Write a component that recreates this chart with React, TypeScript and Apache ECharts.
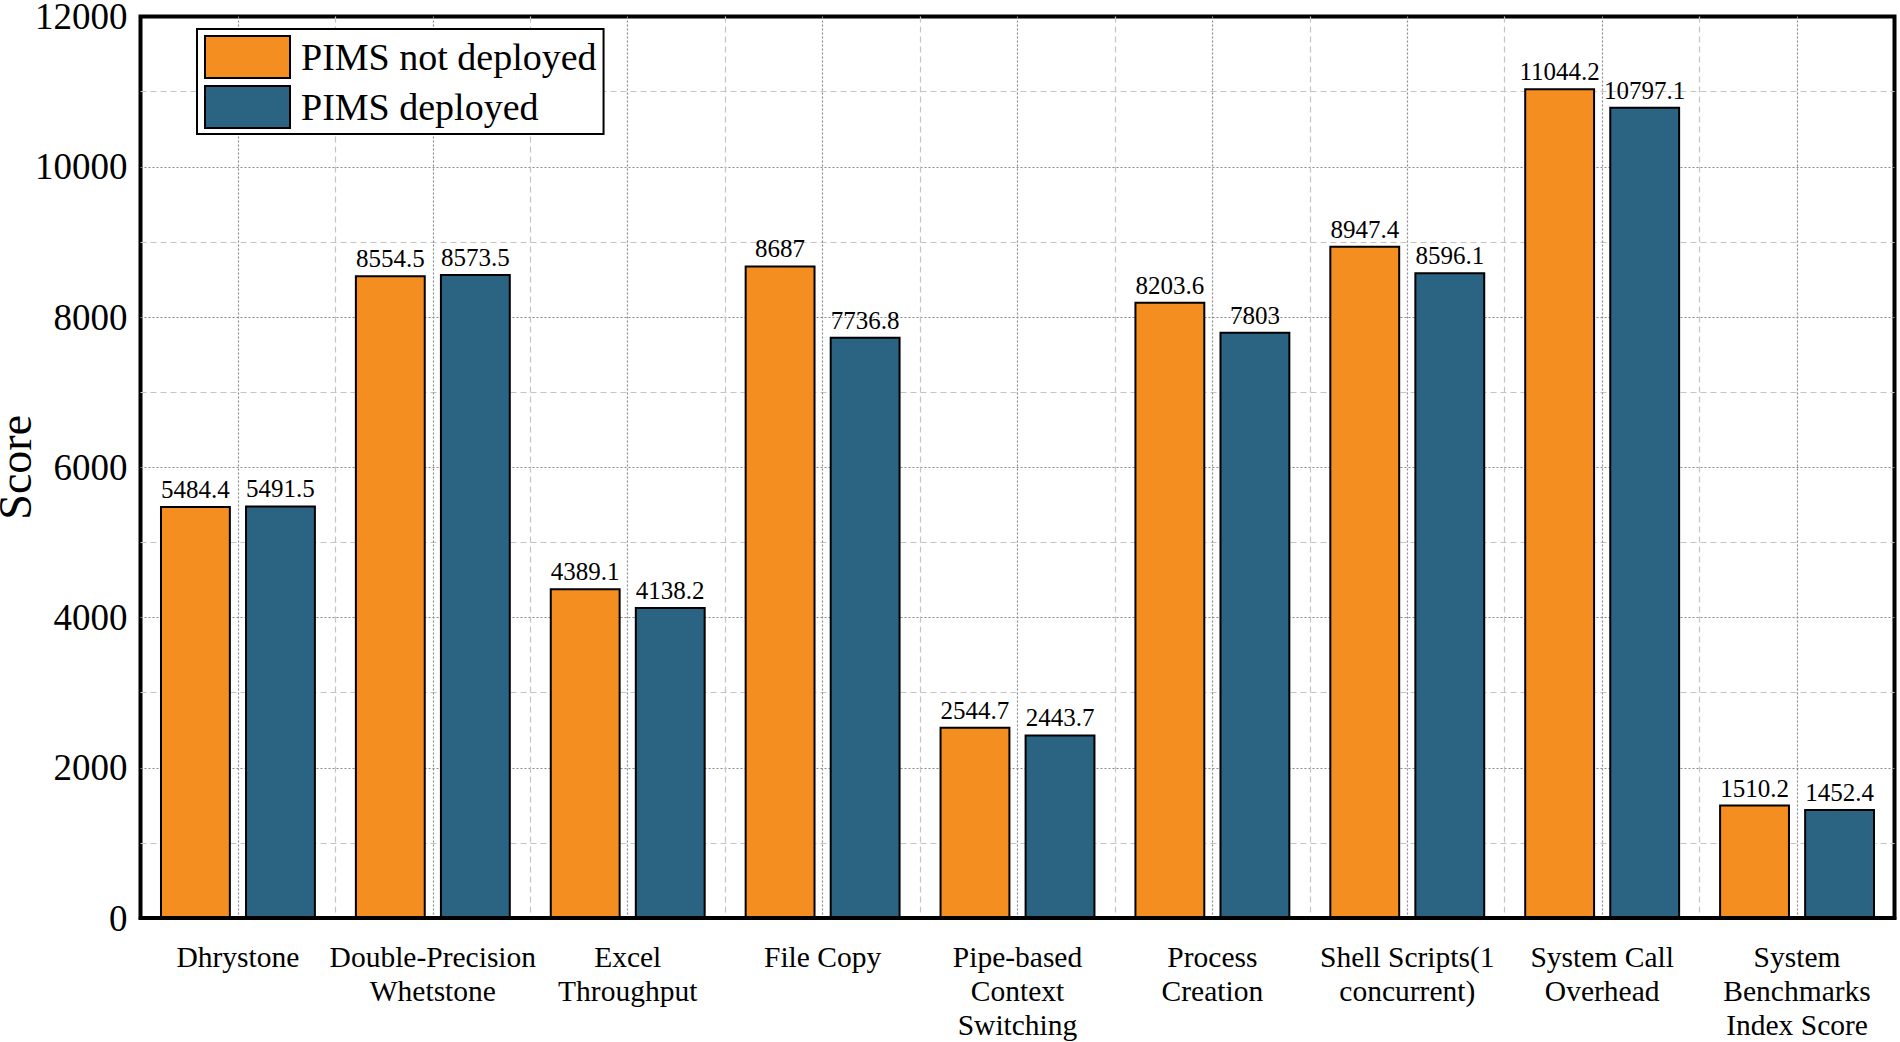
import React, { useEffect, useRef } from "react";
import * as echarts from "echarts";

const categories = [
  "Dhrystone",
  "Double-Precision\nWhetstone",
  "Excel\nThroughput",
  "File Copy",
  "Pipe-based\nContext\nSwitching",
  "Process\nCreation",
  "Shell Scripts(1\nconcurrent)",
  "System Call\nOverhead",
  "System\nBenchmarks\nIndex Score",
];
const notDeployed = [5484.4, 8554.5, 4389.1, 8687, 2544.7, 8203.6, 8947.4, 11044.2, 1510.2];
const deployed = [5491.5, 8573.5, 4138.2, 7736.8, 2443.7, 7803, 8596.1, 10797.1, 1452.4];
const seriesNames = ["PIMS not deployed", "PIMS deployed"];
const yTicks = { min: 0, max: 12000, interval: 2000 };

const FONT = "'Liberation Serif', 'Times New Roman', serif";
const ORANGE = "#F48E21";
const BLUE = "#2B6382";
const DOT = { color: "#8a8a8a", width: 1.2, type: [2, 2] as any };
const DASH = { color: "#c4c4c4", width: 1.2, type: [6, 4] as any };

export default function App() {
  const ref = useRef<HTMLDivElement>(null);
  useEffect(() => {
    document.body.style.margin = "0";
    const chart = echarts.init(ref.current!, null, { renderer: "svg" });
    const barSeries = (name: string, data: number[], color: string) => ({
      name,
      type: "bar",
      xAxisIndex: 0,
      yAxisIndex: 0,
      data,
      barGap: "20%",
      barCategoryGap: "20%",
      itemStyle: { color, borderColor: "#000", borderWidth: 2 },
      label: {
        show: true,
        position: "top",
        distance: 4,
        fontFamily: FONT,
        fontSize: 25,
        color: "#000",
      },
      z: 3,
    });
    chart.setOption({
      animation: false,
      backgroundColor: "#fff",
      grid: {
        left: 140.5,
        right: 5.5,
        top: 16.5,
        bottom: 124,
        outerBoundsMode: "none",
        containLabel: false,
        show: true,
        borderColor: "#000",
        borderWidth: 4,
        backgroundColor: "transparent",
      },
      legend: {
        orient: "vertical",
        left: 197,
        top: 29,
        padding: [6, 7, 5, 7],
        itemWidth: 85,
        itemHeight: 42,
        itemGap: 6,
        icon: "rect",
        borderColor: "#000",
        borderWidth: 2,
        borderRadius: 0,
        backgroundColor: "#fff",
        textStyle: { fontFamily: FONT, fontSize: 38, color: "#000", padding: [0, 0, 0, 6] },
        data: seriesNames,
        z: 10,
      },
      xAxis: [
        {
          type: "category",
          data: categories,
          position: "bottom",
          z: 10,
          axisLine: { show: true, lineStyle: { color: "#000", width: 4 } },
          axisTick: { show: false },
          splitLine: { show: false },
          axisLabel: {
            interval: 0,
            fontFamily: FONT,
            fontSize: 29.5,
            lineHeight: 34,
            color: "#000",
            margin: 22,
          },
        },
        {
          type: "value",
          min: 0,
          max: categories.length,
          interval: 1,
          position: "top",
          axisLine: { show: false },
          axisTick: { show: false },
          axisLabel: { show: false },
          splitLine: { show: true, showMinLine: false, showMaxLine: false, lineStyle: DASH },
          minorTick: { show: false, splitNumber: 2 },
          minorSplitLine: { show: true, lineStyle: DOT },
        },
      ],
      yAxis: {
        type: "value",
        min: yTicks.min,
        max: yTicks.max,
        interval: yTicks.interval,
        name: "Score",
        nameLocation: "middle",
        nameGap: 102,
        nameMoveOverlap: false,
        nameTextStyle: { fontFamily: FONT, fontSize: 46, color: "#000" },
        axisLine: { show: false },
        axisTick: { show: false },
        axisLabel: {
          fontFamily: FONT,
          fontSize: 37,
          color: "#000",
          margin: 13,
          formatter: (v: number) => String(v),
        },
        splitLine: { show: true, showMinLine: false, showMaxLine: false, lineStyle: DOT },
        minorTick: { show: false, splitNumber: 2 },
        minorSplitLine: { show: true, lineStyle: DASH },
      },
      series: [
        barSeries(seriesNames[0], notDeployed, ORANGE),
        barSeries(seriesNames[1], deployed, BLUE),
      ],
    });
    return () => chart.dispose();
  }, []);
  return <div ref={ref} style={{ width: 1900, height: 1042 }} />;
}
